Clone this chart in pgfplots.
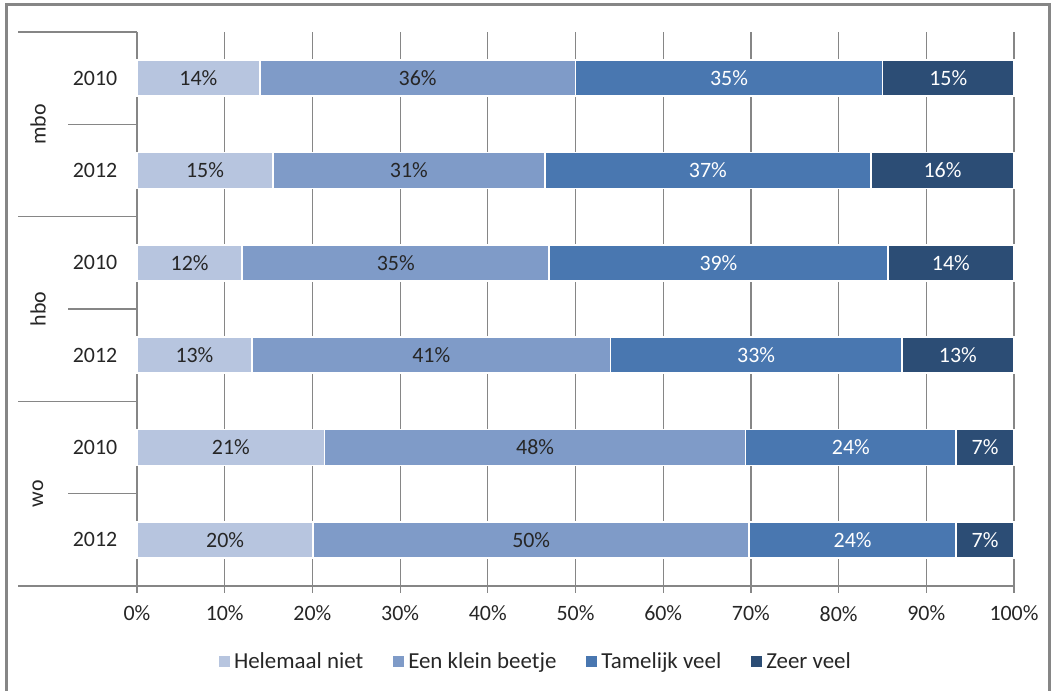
\documentclass[border=0pt]{standalone}
\usepackage{pgfplots}
\pgfplotsset{compat=1.18}
\usepackage{fontspec}
\setmainfont{Carlito}
\definecolor{c1}{HTML}{B7C5DF}
\definecolor{c2}{HTML}{7F9BC8}
\definecolor{c3}{HTML}{4977B0}
\definecolor{c4}{HTML}{2C4D75}
\definecolor{gline}{HTML}{868686}
\definecolor{txt}{HTML}{262626}
\pgfplotsset{myleg/.style={legend image code/.code={\fill[##1, draw=none] (0bp,-2.75bp) rectangle (5.5bp,2.75bp);}}}
\begin{document}
\begin{tikzpicture}
\useasboundingbox (0,0) rectangle (528bp,345.5bp);
\draw[gline, line width=1.5bp] (3bp,-2bp) -- (3bp,343bp) -- (524.5bp,343bp) -- (524.5bp,-2bp);
\begin{axis}[
  at={(68.5bp,52.5bp)}, anchor=south west,
  scale only axis, width=438.5bp, height=277bp,
  xbar stacked, bar width=18bp,
  xmin=0, xmax=100, ymin=-0.5, ymax=5.5,
  xtick={0,10,20,30,40,50,60,70,80,90,100},
  xticklabels={0\%,10\%,20\%,30\%,40\%,50\%,60\%,70\%,80\%,90\%,100\%},
  ytick=\empty,
  axis line style={draw=none},
  xmajorgrids, grid style={gline, line width=0.6bp},
  tick style={gline, line width=0.6bp},
  tick align=outside, major tick length=3.5bp, xtick pos=left,
  font=\fontsize{11}{13}\selectfont,
  ticklabel style={txt, font=\fontsize{11}{13}\selectfont},
  xticklabel style={yshift=-3bp},
  point meta=explicit symbolic,
  nodes near coords,
  every node near coord/.append style={font=\fontsize{11}{13}\selectfont},
  clip=false,
  legend style={at={(axis description cs:0.456,-0.137)}, anchor=center, draw=none, fill=none,
    legend columns=4, font=\fontsize{11.5}{13.5}\selectfont, text=txt,
    /tikz/every even column/.append style={column sep=13bp},
    /tikz/every odd column/.append style={column sep=0bp}},
]
\addplot[fill=c1, draw=white, line width=0.8bp, myleg, every node near coord/.append style={text=txt}] coordinates {
  (14.0,5) [14\%] (15.5,4) [15\%] (12.0,3) [12\%] (13.1,2) [13\%] (21.4,1) [21\%] (20.1,0) [20\%]};
\addplot[fill=c2, draw=white, line width=0.8bp, myleg, every node near coord/.append style={text=txt}] coordinates {
  (36.0,5) [36\%] (31.0,4) [31\%] (35.0,3) [35\%] (40.9,2) [41\%] (48.0,1) [48\%] (49.7,0) [50\%]};
\addplot[fill=c3, draw=white, line width=0.8bp, myleg, every node near coord/.append style={text=white}] coordinates {
  (35.0,5) [35\%] (37.2,4) [37\%] (38.6,3) [39\%] (33.2,2) [33\%] (24.0,1) [24\%] (23.6,0) [24\%]};
\addplot[fill=c4, draw=white, line width=0.8bp, myleg, every node near coord/.append style={text=white}] coordinates {
  (15.0,5) [15\%] (16.3,4) [16\%] (14.4,3) [14\%] (12.8,2) [13\%] (6.6,1) [7\%] (6.6,0) [7\%]};
\legend{Helemaal niet, Een klein beetje, Tamelijk veel, Zeer veel}
\draw[gline, line width=0.6bp] (axis cs:0,5.5) -- (axis cs:0,-0.5) -- ([yshift=-3.5bp]axis cs:0,-0.5);
\draw[gline, line width=0.6bp] (axis cs:100,-0.5) -- ([xshift=-59.5bp]axis cs:0,-0.5);
\draw[gline, line width=0.6bp] (axis cs:0,5.5) -- ([xshift=-59.5bp]axis cs:0,5.5);
\draw[gline, line width=0.6bp] (axis cs:0,3.5) -- ([xshift=-59.5bp]axis cs:0,3.5);
\draw[gline, line width=0.6bp] (axis cs:0,1.5) -- ([xshift=-59.5bp]axis cs:0,1.5);
\draw[gline, line width=0.6bp] (axis cs:0,4.5) -- ([xshift=-34.5bp]axis cs:0,4.5);
\draw[gline, line width=0.6bp] (axis cs:0,2.5) -- ([xshift=-34.5bp]axis cs:0,2.5);
\draw[gline, line width=0.6bp] (axis cs:0,0.5) -- ([xshift=-34.5bp]axis cs:0,0.5);
\node[text=txt] at ([xshift=-21bp]axis cs:0,5) {2010};
\node[text=txt] at ([xshift=-21bp]axis cs:0,4) {2012};
\node[text=txt] at ([xshift=-21bp]axis cs:0,3) {2010};
\node[text=txt] at ([xshift=-21bp]axis cs:0,2) {2012};
\node[text=txt] at ([xshift=-21bp]axis cs:0,1) {2010};
\node[text=txt] at ([xshift=-21bp]axis cs:0,0) {2012};
\node[text=txt, rotate=90] at ([xshift=-49.5bp]axis cs:0,4.5) {mbo};
\node[text=txt, rotate=90] at ([xshift=-49.5bp]axis cs:0,2.5) {hbo};
\node[text=txt, rotate=90] at ([xshift=-49.5bp]axis cs:0,0.5) {wo};
\end{axis}
\end{tikzpicture}
\end{document}
